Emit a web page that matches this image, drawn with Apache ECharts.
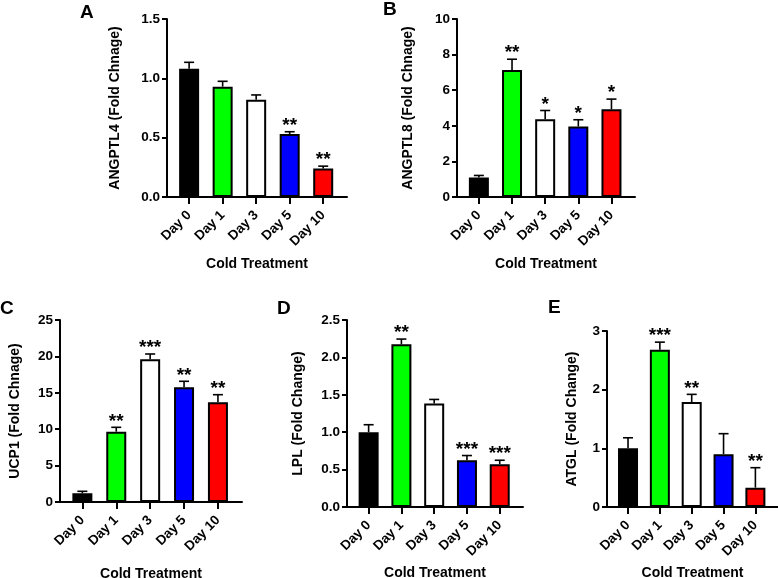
<!DOCTYPE html>
<html>
<head>
<meta charset="utf-8">
<script src="https://cdn.jsdelivr.net/npm/echarts@6/dist/echarts.min.js"></script>
<style>
html,body{margin:0;padding:0;background:#fff;}
#chart{width:778px;height:578px;}
</style>
</head>
<body>
<div id="chart"></div>
<script>
// ---- data ----
const categories = ['Day 0', 'Day 1', 'Day 3', 'Day 5', 'Day 10'];
const barColors = ['#000000', '#00ff00', '#ffffff', '#0000ff', '#ff0000'];
const xAxisTitle = 'Cold Treatment';

const angptl4Mean = [1.08, 0.93, 0.82, 0.53, 0.24];
const angptl4Err  = [0.055, 0.045, 0.04, 0.02, 0.02];
const angptl4Sig  = ['', '', '', '**', '**'];
const angptl4Ticks = [0, 0.5, 1.0, 1.5];

const angptl8Mean = [1.1, 7.14, 4.37, 3.96, 4.93];
const angptl8Err  = [0.11, 0.6, 0.49, 0.38, 0.57];
const angptl8Sig  = ['', '**', '*', '*', '*'];
const angptl8Ticks = [0, 2, 4, 6, 8, 10];

const ucp1Mean = [1.19, 9.66, 19.6, 15.75, 13.69];
const ucp1Err  = [0.28, 0.6, 0.73, 0.83, 1.05];
const ucp1Sig  = ['', '**', '***', '**', '**'];
const ucp1Ticks = [0, 5, 10, 15, 20, 25];

const lplMean = [1.0, 2.175, 1.385, 0.625, 0.572];
const lplErr  = [0.1, 0.07, 0.053, 0.063, 0.053];
const lplSig  = ['', '**', '', '***', '***'];
const lplTicks = [0, 0.5, 1.0, 1.5, 2.0, 2.5];

const atglMean = [1.0, 2.68, 1.79, 0.9, 0.33];
const atglErr  = [0.18, 0.13, 0.13, 0.35, 0.34];
const atglSig  = ['', '***', '**', '', '**'];
const atglTicks = [0, 1, 2, 3];

// ---- layout ----
const FONT = 'Liberation Sans, Arial, sans-serif';
const panels = [
  {letter: 'A', mean: angptl4Mean, err: angptl4Err, sig: angptl4Sig, ticks: angptl4Ticks, dec: 1,
   yName: 'ANGPTL4 (Fold Chnage)', grid: {left: 167, top: 19, width: 180, height: 178},
   letterPos: [80, 3], yGap: 45, xGap: 60},
  {letter: 'B', mean: angptl8Mean, err: angptl8Err, sig: angptl8Sig, ticks: angptl8Ticks, dec: 0,
   yName: 'ANGPTL8 (Fold Chnage)', grid: {left: 457, top: 19, width: 178, height: 178},
   letterPos: [383, 0], yGap: 42, xGap: 60},
  {letter: 'C', mean: ucp1Mean, err: ucp1Err, sig: ucp1Sig, ticks: ucp1Ticks, dec: 0,
   yName: 'UCP1 (Fold Chnage)', grid: {left: 60, top: 320, width: 182, height: 182},
   letterPos: [0, 299], yGap: 38, xGap: 65},
  {letter: 'D', mean: lplMean, err: lplErr, sig: lplSig, ticks: lplTicks, dec: 1,
   yName: 'LPL (Fold Change)', grid: {left: 347, top: 320, width: 176, height: 187},
   letterPos: [277, 299], yGap: 42, xGap: 59},
  {letter: 'E', mean: atglMean, err: atglErr, sig: atglSig, ticks: atglTicks, dec: 0,
   yName: 'ATGL (Fold Change)', grid: {left: 607, top: 331, width: 171, height: 176},
   letterPos: [548, 298], yGap: 28, xGap: 59}
];

const grids = [], xAxes = [], yAxes = [], series = [], titles = [];
panels.forEach((p, k) => {
  grids.push(Object.assign({containLabel: false, outerBoundsMode: 'none'}, p.grid));
  titles.push({text: p.letter, left: p.letterPos[0], top: p.letterPos[1], padding: 0,
    textStyle: {fontFamily: FONT, fontWeight: 'bold', fontSize: 19, color: '#000'}});
  const idx = categories.map((c, i) => i);
  xAxes.push({
    type: 'value', gridIndex: k, min: -0.66, max: 4.71,
    name: xAxisTitle, nameLocation: 'middle', nameGap: p.xGap,
    nameTextStyle: {fontFamily: FONT, fontWeight: 'bold', fontSize: 14, color: '#000'},
    axisLine: {onZero: false, lineStyle: {color: '#000', width: 2}},
    axisTick: {show: true, length: 7, lineStyle: {color: '#000', width: 2}, customValues: idx},
    axisLabel: {customValues: idx, rotate: 45, margin: 16, fontFamily: FONT, fontWeight: 'bold',
      fontSize: 13.5, color: '#000', formatter: v => categories[Math.round(v)]},
    splitLine: {show: false}
  });
  const tmax = p.ticks[p.ticks.length - 1];
  yAxes.push({
    type: 'value', gridIndex: k, min: p.ticks[0], max: tmax, interval: p.ticks[1] - p.ticks[0],
    name: p.yName, nameLocation: 'middle', nameRotate: 90, nameGap: p.yGap,
    nameTextStyle: {fontFamily: FONT, fontWeight: 'bold', fontSize: 14, color: '#000'},
    axisLine: {show: true, onZero: false, lineStyle: {color: '#000', width: 2}},
    axisTick: {show: true, length: 5, lineStyle: {color: '#000', width: 2}},
    axisLabel: {margin: 7, fontFamily: FONT, fontWeight: 'bold', fontSize: 13.5, color: '#000',
      formatter: v => v.toFixed(p.dec)},
    splitLine: {show: false}
  });
  series.push({
    type: 'bar', xAxisIndex: k, yAxisIndex: k, barWidth: 20,
    data: p.mean.map((m, i) => ({value: [i, m], itemStyle: {color: barColors[i]}})),
    itemStyle: {borderColor: '#000', borderWidth: 2},
    emphasis: {disabled: true}, animation: false
  });
  const sig = p.sig;
  series.push({
    type: 'custom', xAxisIndex: k, yAxisIndex: k, z: 5,
    data: p.mean.map((m, i) => [i, m, p.err[i]]),
    encode: {x: 0, y: 1},
    renderItem: function (params, api) {
      const x = api.value(0), m = api.value(1), e = api.value(2);
      const p0 = api.coord([x, m]);
      const p1 = api.coord([x, m + e]);
      const st = {stroke: '#000', lineWidth: 1.6};
      const children = [
        {type: 'line', shape: {x1: p0[0], y1: p0[1], x2: p1[0], y2: p1[1]}, style: st},
        {type: 'line', shape: {x1: p1[0] - 5, y1: p1[1], x2: p1[0] + 5, y2: p1[1]}, style: st}
      ];
      const s = sig[params.dataIndex];
      if (s) {
        children.push({type: 'text', x: p1[0], y: p1[1] - 6,
          style: {text: s, align: 'center', verticalAlign: 'middle', fill: '#000',
            font: 'bold 19px ' + FONT}});
      }
      return {type: 'group', children: children};
    },
    animation: false, silent: true
  });
});

const chart = echarts.init(document.getElementById('chart'), null, {renderer: 'canvas'});
chart.setOption({
  animation: false,
  backgroundColor: '#fff',
  title: titles,
  grid: grids,
  xAxis: xAxes,
  yAxis: yAxes,
  series: series
});
</script>
</body>
</html>
